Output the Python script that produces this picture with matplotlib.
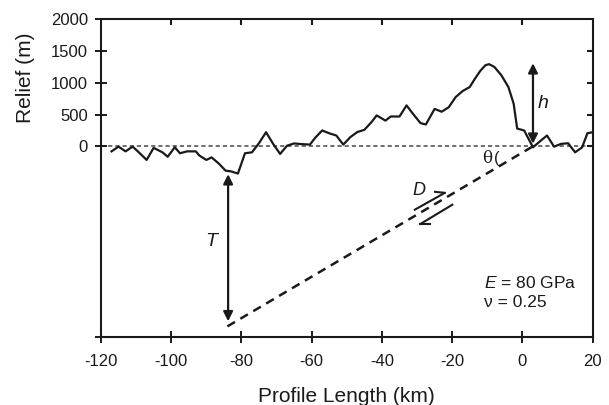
import matplotlib
matplotlib.use("Agg")
import matplotlib.pyplot as plt

plt.rcParams['font.family'] = ['Liberation Sans', 'DejaVu Sans']
plt.rcParams['mathtext.fontset'] = 'custom'
plt.rcParams['mathtext.rm'] = 'Liberation Sans'
plt.rcParams['mathtext.it'] = 'Liberation Sans:italic'
plt.rcParams['axes.unicode_minus'] = False

# topographic profile (km, m)
profile_x = [-117, -115, -113, -111, -109.5, -107, -105, -102.5, -101, -99,
             -97.5, -95.5, -93, -92, -90, -88.5, -86.5, -84.5, -83, -81,
             -79, -77, -75, -73, -71, -69, -67, -65, -63, -60.5,
             -59, -57, -55, -53, -51, -49, -47, -45, -43, -41.5,
             -39, -37.5, -35, -33, -31, -29, -27.5, -25, -23, -21,
             -19, -17, -15, -13.5, -12, -10.5, -9.5, -8, -6, -4,
             -2.5, -1.5, 0.5, 3, 5, 7, 9, 11, 13, 15,
             17, 18.5, 20]
profile_y = [-80, -5, -80, -5, -80, -215, -25, -95, -165, -15,
             -110, -80, -80, -145, -215, -175, -270, -385, -395, -430,
             -110, -95, 50, 222, 40, -120, 10, 45, 35, 27,
             135, 250, 205, 170, 27, 145, 225, 260, 380, 487,
             405, 470, 470, 645, 500, 365, 344, 590, 545, 615,
             777, 872, 935, 1068, 1190, 1280, 1295, 1252, 1120, 935,
             672, 280, 249, -16, 79, 170, -5, 38, 48, -95,
             -16, 206, 222]

# fault trace (km, m)
fault_x = [-84, 3]
fault_y = [-2840, 0]

# annotation geometry
h_x, h_top, h_bot = 3.0, 1310, 40
T_x, T_top, T_bot = -83.8, -440, -2760
slip_up = ([-30.9, -22.1], [-1008, -734], [-24.9, -718])
slip_dn = ([-19.7, -29.2], [-913, -1230], [-26.3, -1230])

xticks = [-120, -100, -80, -60, -40, -20, 0, 20]
yticks = [-3000, 0, 500, 1000, 1500, 2000]
ink = '#1a1a1a'

fig = plt.figure(figsize=(6.09, 4.05), dpi=100)
ax = fig.add_axes([0.1658, 0.1691, 0.8074, 0.7828])

ax.axhline(0, color='#555555', lw=1.2, ls=(0, (2.5, 1.8)), zorder=1)
ax.plot(profile_x, profile_y, color=ink, lw=1.6, zorder=3)
ax.plot(fault_x, fault_y, color=ink, lw=1.8, ls=(0, (3.5, 2.5)), zorder=2)

arrow = dict(arrowstyle='<|-|>', color=ink, lw=1.6,
             mutation_scale=14, shrinkA=0, shrinkB=0)
ax.annotate('', xy=(h_x, h_top), xytext=(h_x, h_bot), arrowprops=arrow)
ax.annotate('', xy=(T_x, T_top), xytext=(T_x, T_bot), arrowprops=arrow)

for sx, sy, barb in (slip_up, slip_dn):
    ax.plot(sx, sy, color=ink, lw=1.5, solid_capstyle='butt')
    ax.plot([sx[1], barb[0]], [sy[1], barb[1]], color=ink, lw=1.5)

ax.text(6.0, 680, 'h', fontsize=14, style='italic', ha='center', va='center', color=ink)
ax.text(-88.5, -1500, 'T', fontsize=14, style='italic', ha='center', va='center', color=ink)
ax.text(-29.5, -690, 'D', fontsize=13, style='italic', ha='center', va='center', color=ink)
ax.text(-9.9, -195, 'θ', fontsize=12, family='DejaVu Serif', ha='center', va='center', color=ink)
ax.text(-7.2, -185, '(', fontsize=12, ha='center', va='center', color=ink)
ax.text(-10.9, -2150, r'$E$ = 80 GPa', fontsize=12.5, ha='left', va='center', color=ink)
ax.text(-10.9, -2470, 'ν = 0.25', fontsize=12.5, ha='left', va='center', color=ink)

ax.set_xlim(-120, 20)
ax.set_ylim(-3000, 2000)
ax.set_xticks(xticks)
ax.set_yticks(yticks)
ax.set_yticklabels(['' if v < 0 else str(v) for v in yticks])

for s in ax.spines.values():
    s.set_linewidth(1.5)
    s.set_color(ink)

ax.tick_params(axis='both', which='major', direction='inout', length=9,
               width=1.4, labelsize=12, colors=ink)
ax.tick_params(axis='x', pad=8)
ax.tick_params(axis='y', pad=5)

# short inward ticks along the top and right edges (corners skipped)
top_len, right_len = 0.018, 0.012
for v in xticks[1:-1]:
    ax.plot([v, v], [1, 1 - top_len], transform=ax.get_xaxis_transform(),
            color=ink, lw=1.5, clip_on=False, solid_capstyle='butt')
for v in yticks[1:-1]:
    ax.plot([1, 1 - right_len], [v, v], transform=ax.get_yaxis_transform(),
            color=ink, lw=1.5, clip_on=False, solid_capstyle='butt')

ax.set_xlabel('Profile Length (km)', fontsize=15, labelpad=13, color=ink)
ax.set_ylabel('Relief (m)', fontsize=15, color=ink)
ax.yaxis.set_label_coords(-0.134, 0.815)

fig.savefig('out.png', dpi=100)
